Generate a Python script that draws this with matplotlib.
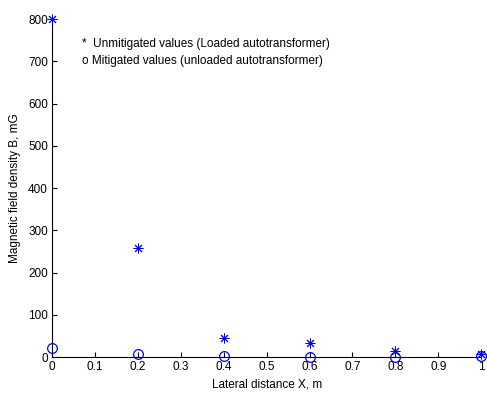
import matplotlib
matplotlib.use("Agg")
import matplotlib.pyplot as plt

plt.rcParams['font.family'] = ['Liberation Sans', 'DejaVu Sans']

x = [0, 0.2, 0.4, 0.6, 0.8, 1.0]
unmitigated = [800, 258, 45, 33, 14, 8]
mitigated = [22, 7, 2, 1, 1, 3]
xticks = [0, 0.1, 0.2, 0.3, 0.4, 0.5, 0.6, 0.7, 0.8, 0.9, 1]
yticks = [0, 100, 200, 300, 400, 500, 600, 700, 800]

fig = plt.figure(figsize=(4.87, 3.98), dpi=100)
ax = fig.add_axes([0.107, 0.103, 0.881, 0.849])

ax.plot(x, unmitigated, linestyle='none', marker=(8, 2, 0), markersize=7,
        color='#0000ff', markeredgewidth=0.7, clip_on=False, zorder=3)
ax.plot(x, mitigated, linestyle='none', marker='o', markersize=7,
        markerfacecolor='none', markeredgecolor='#0000ff', markeredgewidth=0.9,
        clip_on=False, zorder=3)

ax.set_xlim(0, 1)
ax.set_ylim(0, 800)
ax.set_xticks(xticks)
ax.set_xticklabels([f"{t:g}" for t in xticks])
ax.set_yticks(yticks)
ax.spines['top'].set_visible(False)
ax.spines['right'].set_visible(False)
ax.tick_params(direction='in', length=3.5, labelsize=8.5, width=0.8, pad=3)
ax.set_xlabel('Lateral distance X, m', fontsize=8.5, labelpad=4)
ax.set_ylabel('Magnetic field density B, mG', fontsize=8.5, labelpad=5)

ax.text(0.07, 0.925, '*  Unmitigated values (Loaded autotransformer)',
        transform=ax.transAxes, fontsize=8.5, va='center')
ax.text(0.07, 0.875, 'o Mitigated values (unloaded autotransformer)',
        transform=ax.transAxes, fontsize=8.5, va='center')

fig.savefig('out.png', dpi=100)
